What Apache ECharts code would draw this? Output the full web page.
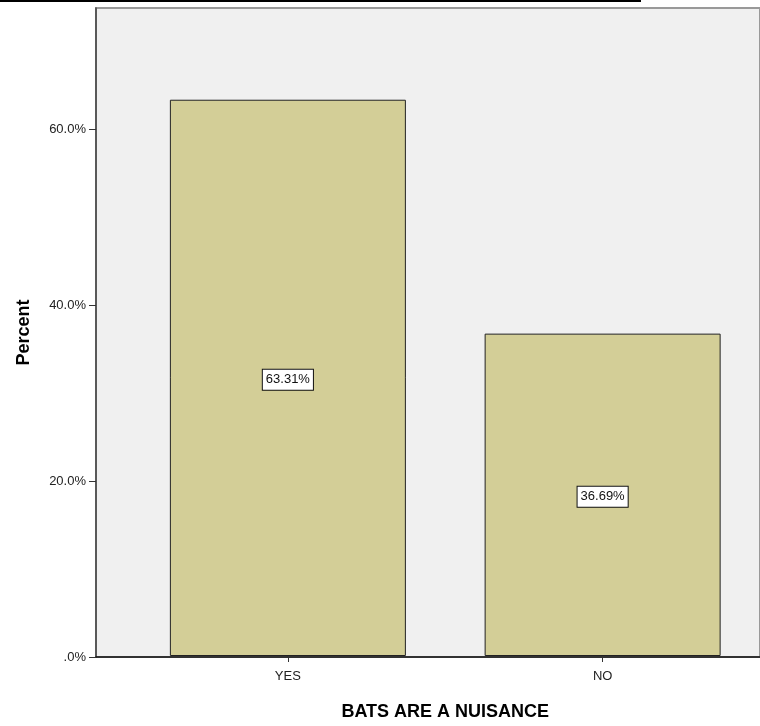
<!DOCTYPE html>
<html>
<head>
<meta charset="utf-8">
<script src="https://cdn.jsdelivr.net/npm/echarts@6/dist/echarts.min.js"></script>
<style>html,body{margin:0;padding:0;background:#fff;}#c{width:760px;height:726px;}</style>
</head>
<body>
<div id="c"></div>
<script>
var categories = ['YES', 'NO'];
var percentValues = [63.31, 36.69];
var yTickValues = [0, 20, 40, 60];
var yMax = 73.75;

var chart = echarts.init(document.getElementById('c'));
var font = '"Liberation Sans", Arial, sans-serif';
chart.setOption({
  animation: false,
  graphic: [{
    type: 'rect', shape: {x: 0, y: 0, width: 641, height: 2}, style: {fill: '#000'}
  }],
  grid: [
    {left: 96, top: 8, width: 700, height: 649, show: true, backgroundColor: '#f0f0f0', borderColor: '#999', borderWidth: 2},
    {left: 130.5, top: 8, width: 630, height: 649}
  ],
  xAxis: [
    {gridIndex: 0, type: 'value', min: 0, max: 1, axisLine: {show: true, onZero: false, lineStyle: {color: '#111', width: 1.5}}, axisTick: {show: false}, axisLabel: {show: false}, splitLine: {show: false}},
    {gridIndex: 1, type: 'category', data: categories,
     axisLine: {show: false}, axisTick: {show: true, alignWithLabel: true, length: 6, lineStyle: {color: '#333'}},
     axisLabel: {color: '#222', fontFamily: font, fontSize: 13, margin: 14},
     name: 'BATS ARE A NUISANCE', nameLocation: 'middle', nameGap: 47,
     nameTextStyle: {color: '#000', fontFamily: font, fontSize: 18, fontWeight: 'bold'}}
  ],
  yAxis: [
    {gridIndex: 0, type: 'value', min: 0, max: yMax,
     axisLine: {show: true, lineStyle: {color: '#444', width: 1.5}},
     axisTick: {show: true, length: 7, customValues: yTickValues, lineStyle: {color: '#333'}},
     axisLabel: {customValues: yTickValues, color: '#222', fontFamily: font, fontSize: 13, margin: 10,
       formatter: function (v) { return v === 0 ? '.0%' : v.toFixed(1) + '%'; }},
     splitLine: {show: false},
     name: 'Percent', nameLocation: 'middle', nameRotate: 90, nameGap: 63,
     nameTextStyle: {color: '#000', fontFamily: font, fontSize: 18, fontWeight: 'bold'}},
    {gridIndex: 1, type: 'value', min: 0, max: yMax, show: false}
  ],
  series: [{
    type: 'bar', xAxisIndex: 1, yAxisIndex: 1, data: percentValues, barWidth: 236,
    itemStyle: {color: '#d3ce97', borderColor: '#222', borderWidth: 1},
    label: {show: true, position: 'inside', offset: [0, 2], formatter: function (p) { return p.value.toFixed(2) + '%'; },
      color: '#111', fontFamily: font, fontSize: 13, backgroundColor: '#fff', borderColor: '#111', borderWidth: 1, padding: [4, 3, 3, 3]}
  }]
});
</script>
</body>
</html>
